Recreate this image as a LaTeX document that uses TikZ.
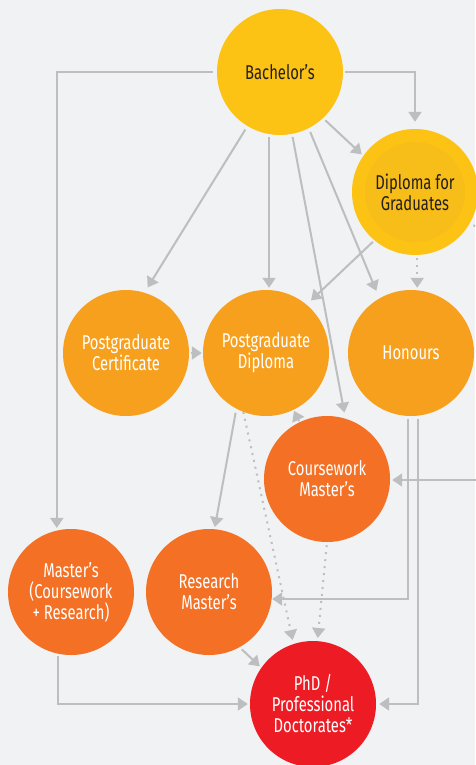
\documentclass[tikz,border=0pt]{standalone}
\usepackage{fontspec}
\setmainfont{Fira Sans}[FakeStretch=0.74]
\usetikzlibrary{arrows.meta}
\definecolor{bg}{RGB}{241,242,244}
\definecolor{cyel}{RGB}{253,195,20}
\definecolor{cyelin}{RGB}{247,189,24}
\definecolor{corg}{RGB}{247,160,30}
\definecolor{cdorg}{RGB}{243,112,36}
\definecolor{cred}{RGB}{237,28,36}
\definecolor{lgray}{RGB}{188,190,192}
\definecolor{dtext}{RGB}{35,31,32}
\begin{document}
\begin{tikzpicture}[x=1pt,y=-1pt,
  circ/.style={circle, minimum size=126pt, inner sep=0pt, align=center,
    font=\fontsize{20}{21}\selectfont, text=white},
  arr/.style={draw=lgray, line width=2pt, -{Triangle[width=13pt,length=10pt]}},
  dotarr/.style={arr, dash pattern=on 2pt off 5pt},
  dotline/.style={draw=lgray, line width=2pt, dash pattern=on 2pt off 5pt}]
\fill[bg] (0,0) rectangle (475,765);
\useasboundingbox (0,0) rectangle (475,765);
\node[circ, fill=cyel, text=dtext] (B) at (280,72) {Bachelor's};
\node[circ, fill=cyel] (DfG) at (415,192) {};
\fill[cyelin] (DfG) circle (50pt);
\node[circ, text=dtext] (DfGt) at (DfG) {Diploma for\\Graduates};
\node[circ, fill=corg] (PGC) at (126,353) {Postgraduate\\Certificate};
\node[circ, fill=corg] (PGD) at (266,353) {Postgraduate\\Diploma};
\node[circ, fill=corg] (Hon) at (411,353) {Honours};
\node[circ, fill=cdorg] (CM) at (327,479) {Coursework\\Master's};
\node[circ, fill=cdorg] (MCR) at (71,592) {Master's\\(Coursework\\+ Research)};
\node[circ, fill=cdorg] (RM) at (209,592) {Research\\Master's};
\node[circ, fill=cred] (PhD) at (313,704) {PhD /\\Professional\\Doctorates*};
\coordinate (rA) at (476,480);
\coordinate (rB) at (477,227);
% connectors
\draw[arr, shorten <=4pt, shorten >=2.5pt] (B.west) -| (MCR.103);
\draw[arr, shorten <=2pt, shorten >=7pt] (B.east) -| (DfG.north);
\draw[arr, shorten <=3pt, shorten >=2pt] (B.-47) -- (DfG.145);
\draw[arr, shorten <=4pt, shorten >=6pt] (B.-121) -- (PGC.73);
\draw[arr, shorten <=3pt, shorten >=2pt] (B.-100) -- (B.-100 |- PGD.north);
\draw[arr, shorten <=3pt, shorten >=6pt] (B.-79) -- (CM.73);
\draw[arr, shorten <=4pt, shorten >=8pt] (B.-63) -- (Hon.120);
\draw[arr, shorten <=2pt, shorten >=6pt] (DfG.-130) -- (PGD.50);
\draw[dotarr, shorten <=3pt, shorten >=2pt] (DfG.-88) -- (DfG.-88 |- Hon.north);
\draw[dotline, shorten <=4pt] (DfG.-30) -- (rB);
\draw[arr, shorten <=2pt, shorten >=1pt] (PGC) -- (PGD);
\draw[arr, shorten <=1pt, shorten >=1pt] (CM) -- (PGD);
\draw[arr, shorten <=4pt, shorten >=2pt] (PGD.-118) -- (RM.85);
\draw[dotarr, shorten >=4pt] (PGD.-111) -- (PhD.108);
\draw[dotarr, shorten <=3pt, shorten >=3pt] (CM.south) -- (PhD.86);
\draw[arr, shorten <=3pt] (Hon.-93) |- ([yshift=-7pt]RM.east);
\draw[arr, shorten <=3pt, shorten >=3pt] (Hon.-84) |- (PhD.east);
\draw[arr, shorten >=2pt] (rA) -- (rA -| CM.east);
\draw[arr, shorten <=3pt, shorten >=2pt] (RM.-61) -- (PhD.145);
\draw[arr, shorten <=2pt, shorten >=2pt] (MCR.-102) |- (PhD.west);
\end{tikzpicture}
\end{document}
